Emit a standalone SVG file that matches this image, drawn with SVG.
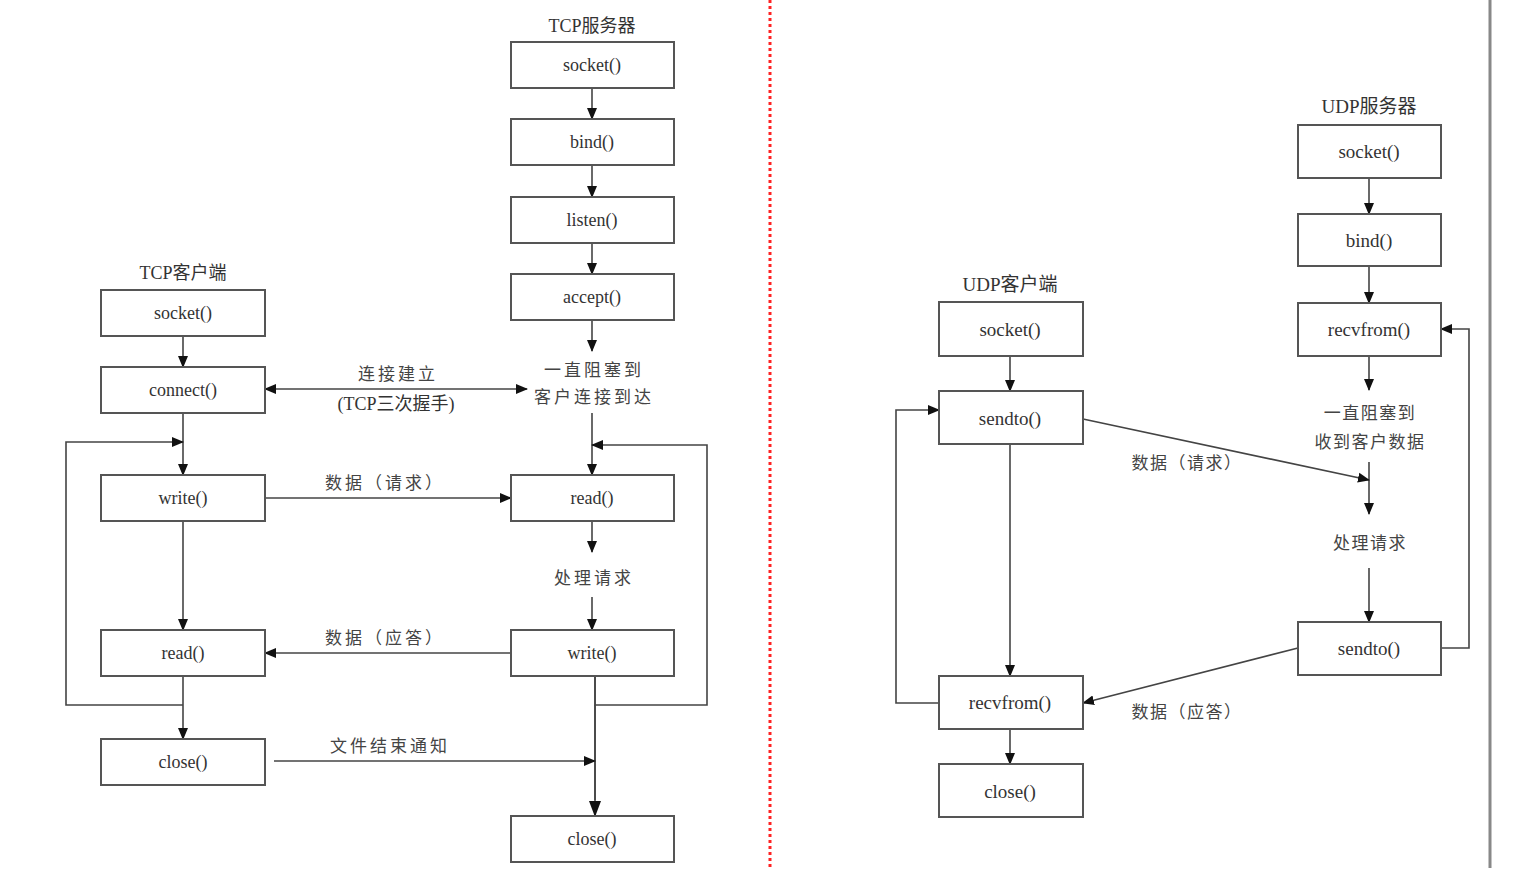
<svg xmlns="http://www.w3.org/2000/svg" width="1523" height="879" viewBox="0 0 1523 879">
<defs>
<marker id="ah" markerUnits="userSpaceOnUse" markerWidth="12" markerHeight="12" viewBox="0 0 12 12" refX="11" refY="6" orient="auto-start-reverse">
<path d="M0,1 L12,6 L0,11 Z" fill="#111"/>
</marker>
<marker id="ahb" markerUnits="userSpaceOnUse" markerWidth="16" markerHeight="14" viewBox="0 0 16 14" refX="15" refY="7" orient="auto">
<path d="M0,1 L16,7 L0,13 Z" fill="#111"/>
</marker>
<style>
.box{fill:#fff;stroke:#555;stroke-width:2}
.t{font-family:"Liberation Serif","Noto Sans CJK SC",serif;font-size:18px;fill:#333;text-anchor:middle;dominant-baseline:central}
.u{font-family:"Liberation Serif","Noto Sans CJK SC",serif;font-size:19px;fill:#333;text-anchor:middle;dominant-baseline:central}
.c{font-family:"Noto Sans CJK SC","Liberation Serif",sans-serif;font-size:17px;fill:#444;text-anchor:middle;dominant-baseline:central;letter-spacing:3px}
.d{font-family:"Noto Sans CJK SC","Liberation Serif",sans-serif;font-size:17px;fill:#444;text-anchor:middle;dominant-baseline:central;letter-spacing:1.5px}
.ln{fill:none;stroke:#444;stroke-width:1.6}
.a{marker-end:url(#ah)}
</style>
</defs>
<rect width="1523" height="879" fill="#fff"/>
<line x1="770" y1="0" x2="770" y2="868" stroke="#f22" stroke-width="3" stroke-dasharray="3 3"/>
<line x1="1490" y1="0" x2="1490" y2="868" stroke="#888" stroke-width="3"/>

<g id="connectors">
<!-- TCP server -->
<line class="ln a" x1="592" y1="88" x2="592" y2="119"/>
<line class="ln a" x1="592" y1="165" x2="592" y2="197"/>
<line class="ln a" x1="592" y1="243" x2="592" y2="274"/>
<line class="ln a" x1="592" y1="320" x2="592" y2="351"/>
<line class="ln a" x1="592" y1="413" x2="592" y2="475"/>
<line class="ln a" x1="592" y1="521" x2="592" y2="552"/>
<line class="ln a" x1="592" y1="597" x2="592" y2="630"/>
<polyline class="ln a" points="595,676 595,705 707,705 707,445 592,445"/>
<line class="ln" x1="595" y1="676" x2="595" y2="800" stroke-width="2"/>
<line class="ln" x1="595" y1="705" x2="595" y2="816" style="marker-end:url(#ahb)" stroke-width="2"/>
<!-- TCP client -->
<line class="ln a" x1="183" y1="336" x2="183" y2="367"/>
<line class="ln a" x1="183" y1="413" x2="183" y2="475"/>
<line class="ln a" x1="183" y1="521" x2="183" y2="630"/>
<line class="ln a" x1="183" y1="676" x2="183" y2="739"/>
<polyline class="ln a" points="183,705 66,705 66,442 183,442"/>
<!-- TCP cross -->
<line class="ln a" x1="265" y1="389" x2="527" y2="389" style="marker-start:url(#ah)"/>
<line class="ln a" x1="265" y1="498" x2="511" y2="498"/>
<line class="ln a" x1="511" y1="653" x2="265" y2="653"/>
<line class="ln a" x1="274" y1="761" x2="595" y2="761"/>
<!-- UDP server -->
<line class="ln a" x1="1369" y1="178" x2="1369" y2="214"/>
<line class="ln a" x1="1369" y1="266" x2="1369" y2="303"/>
<line class="ln a" x1="1369" y1="356" x2="1369" y2="390"/>
<line class="ln a" x1="1369" y1="462" x2="1369" y2="514"/>
<line class="ln a" x1="1369" y1="568" x2="1369" y2="622"/>
<polyline class="ln a" points="1441,648 1469,648 1469,329 1441,329"/>
<!-- UDP client -->
<line class="ln a" x1="1010" y1="356" x2="1010" y2="391"/>
<line class="ln a" x1="1010" y1="444" x2="1010" y2="676"/>
<line class="ln a" x1="1010" y1="729" x2="1010" y2="764"/>
<polyline class="ln a" points="939,703 896,703 896,410 939,410"/>
<!-- UDP cross -->
<line class="ln a" x1="1083" y1="419" x2="1369" y2="480"/>
<line class="ln a" x1="1298" y1="648" x2="1083" y2="703"/>
</g>

<g id="labels">
<text class="t" x="592" y="26">TCP服务器</text>
<text class="t" x="183" y="273">TCP客户端</text>
<text class="c" x="398" y="372">连接建立</text>
<text class="t" x="396" y="404">(TCP三次握手)</text>
<text class="c" x="594" y="368">一直阻塞到</text>
<text class="c" x="594" y="395">客户连接到达</text>
<text class="c" x="385" y="481">数据（请求）</text>
<text class="c" x="594" y="576">处理请求</text>
<text class="c" x="385" y="636">数据（应答）</text>
<text class="c" x="390" y="744">文件结束通知</text>
<text class="u" x="1369" y="106">UDP服务器</text>
<text class="u" x="1010" y="284">UDP客户端</text>
<text class="d" x="1370" y="411">一直阻塞到</text>
<text class="d" x="1370" y="440">收到客户数据</text>
<text class="d" x="1370" y="541">处理请求</text>
<text class="d" x="1187" y="461">数据（请求）</text>
<text class="d" x="1187" y="710">数据（应答）</text>
</g>

<g id="tcp-srv-socket"><rect class="box" x="511" y="42" width="163" height="46"/><text class="t" x="592" y="65">socket()</text></g>
<g id="tcp-srv-bind"><rect class="box" x="511" y="119" width="163" height="46"/><text class="t" x="592" y="142">bind()</text></g>
<g id="tcp-srv-listen"><rect class="box" x="511" y="197" width="163" height="46"/><text class="t" x="592" y="220">listen()</text></g>
<g id="tcp-srv-accept"><rect class="box" x="511" y="274" width="163" height="46"/><text class="t" x="592" y="297">accept()</text></g>
<g id="tcp-srv-read"><rect class="box" x="511" y="475" width="163" height="46"/><text class="t" x="592" y="498">read()</text></g>
<g id="tcp-srv-write"><rect class="box" x="511" y="630" width="163" height="46"/><text class="t" x="592" y="653">write()</text></g>
<g id="tcp-srv-close"><rect class="box" x="511" y="816" width="163" height="46"/><text class="t" x="592" y="839">close()</text></g>

<g id="tcp-cli-socket"><rect class="box" x="101" y="290" width="164" height="46"/><text class="t" x="183" y="313">socket()</text></g>
<g id="tcp-cli-connect"><rect class="box" x="101" y="367" width="164" height="46"/><text class="t" x="183" y="390">connect()</text></g>
<g id="tcp-cli-write"><rect class="box" x="101" y="475" width="164" height="46"/><text class="t" x="183" y="498">write()</text></g>
<g id="tcp-cli-read"><rect class="box" x="101" y="630" width="164" height="46"/><text class="t" x="183" y="653">read()</text></g>
<g id="tcp-cli-close"><rect class="box" x="101" y="739" width="164" height="46"/><text class="t" x="183" y="762">close()</text></g>

<g id="udp-srv-socket"><rect class="box" x="1298" y="125" width="143" height="53"/><text class="u" x="1369" y="151">socket()</text></g>
<g id="udp-srv-bind"><rect class="box" x="1298" y="214" width="143" height="52"/><text class="u" x="1369" y="240">bind()</text></g>
<g id="udp-srv-recvfrom"><rect class="box" x="1298" y="303" width="143" height="53"/><text class="u" x="1369" y="329">recvfrom()</text></g>
<g id="udp-srv-sendto"><rect class="box" x="1298" y="622" width="143" height="53"/><text class="u" x="1369" y="648">sendto()</text></g>

<g id="udp-cli-socket"><rect class="box" x="939" y="302" width="144" height="54"/><text class="u" x="1010" y="329">socket()</text></g>
<g id="udp-cli-sendto"><rect class="box" x="939" y="391" width="144" height="53"/><text class="u" x="1010" y="418">sendto()</text></g>
<g id="udp-cli-recvfrom"><rect class="box" x="939" y="676" width="144" height="53"/><text class="u" x="1010" y="702">recvfrom()</text></g>
<g id="udp-cli-close"><rect class="box" x="939" y="764" width="144" height="53"/><text class="u" x="1010" y="791">close()</text></g>
</svg>
